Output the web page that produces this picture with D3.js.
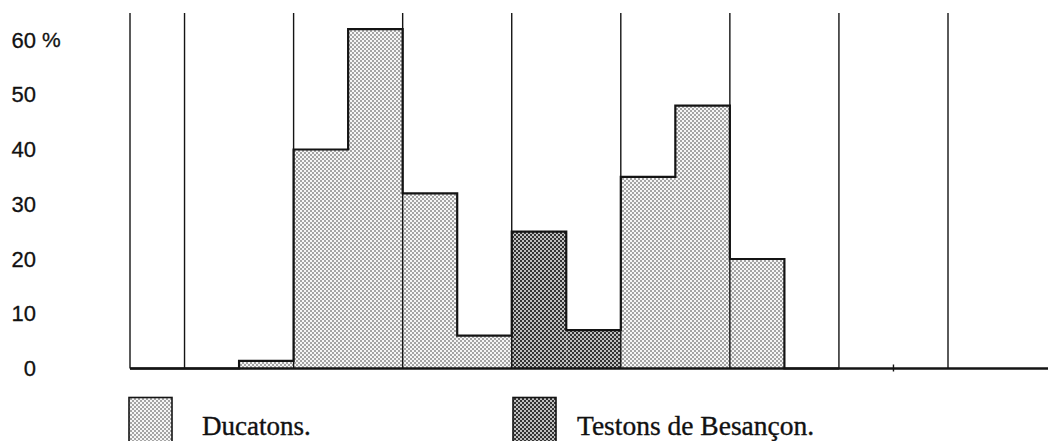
<!DOCTYPE html>
<html><head><meta charset="utf-8">
<script src="https://cdn.jsdelivr.net/npm/d3@7"></script>
<style>
html,body{margin:0;padding:0;background:#fff;}
svg{display:block;}
</style></head>
<body>
<script>
// half-slot index -> value (%)
const slots = d3.range(0, 13);
const ducatons = [0, 0, 1.4, 40, 62, 32, 6, null, null, 35, 48, 20, 0];
const testons  = [null, null, null, null, null, null, null, 25, 7, null, null, null, null];
const gridSlots = [0, 1, 3, 5, 7, 9, 11, 13, 15];
const minorTickSlots = [14];
const yTicks = [0, 10, 20, 30, 40, 50, 60];
const legendItems = ["Ducatons.", "Testons de Besançon."];

const W = 1048, H = 441;
const svg = d3.select("body").append("svg").attr("width", W).attr("height", H);

const x = d3.scaleLinear().domain([0, 15]).range([130, 948]);
const y = d3.scaleLinear().domain([0, 60]).range([368.5, 40]);
const gridTop = 13;

const defs = svg.append("defs");
function checker(id, a, b) {
  const p = defs.append("pattern").attr("id", id).attr("patternUnits", "userSpaceOnUse")
    .attr("width", 4).attr("height", 4);
  p.append("rect").attr("width", 4).attr("height", 4).attr("fill", b);
  p.append("rect").attr("x", 0).attr("y", 0).attr("width", 2).attr("height", 2).attr("fill", a);
  p.append("rect").attr("x", 2).attr("y", 2).attr("width", 2).attr("height", 2).attr("fill", a);
}
checker("light", "#a4a4a4", "#f6f6f6");
checker("dark", "#333333", "#c0c0c0");

const vals = slots.map(k => ducatons[k] != null ? ducatons[k] : (testons[k] != null ? testons[k] : 0));

// fills
const g = svg.append("g");
g.selectAll("rect.d").data(slots.filter(k => ducatons[k] > 0)).join("rect")
  .attr("class", "d")
  .attr("x", k => x(k)).attr("y", k => y(ducatons[k]))
  .attr("width", k => x(k + 1) - x(k)).attr("height", k => y(0) - y(ducatons[k]))
  .attr("fill", "url(#light)");
g.selectAll("rect.t").data(slots.filter(k => testons[k] > 0)).join("rect")
  .attr("class", "t")
  .attr("x", k => x(k)).attr("y", k => y(testons[k]))
  .attr("width", k => x(k + 1) - x(k)).attr("height", k => y(0) - y(testons[k]))
  .attr("fill", "url(#dark)");

// grid lines
svg.append("g").selectAll("line").data(gridSlots).join("line")
  .attr("x1", k => x(k)).attr("x2", k => x(k))
  .attr("y1", gridTop).attr("y2", y(0))
  .attr("stroke", "#141414").attr("stroke-width", 1.4);

// step outline
const pts = [];
slots.forEach(k => { pts.push([x(k), y(vals[k])]); pts.push([x(k + 1), y(vals[k])]); });
svg.append("path").attr("d", d3.line()(pts))
  .attr("fill", "none").attr("stroke", "#141414").attr("stroke-width", 2.2);

// baseline
svg.append("line").attr("x1", x(0)).attr("x2", W).attr("y1", y(0)).attr("y2", y(0))
  .attr("stroke", "#141414").attr("stroke-width", 2.4);
svg.append("g").selectAll("line").data(minorTickSlots).join("line")
  .attr("x1", k => x(k)).attr("x2", k => x(k))
  .attr("y1", y(0) - 4).attr("y2", y(0) + 3)
  .attr("stroke", "#141414").attr("stroke-width", 1.4);

// y axis labels
const ax = svg.append("g").attr("transform", "translate(39,0)")
  .call(d3.axisLeft(y).tickValues(yTicks).tickSize(0).tickPadding(3).tickFormat(d => d));
ax.select(".domain").remove();
ax.selectAll("text").attr("font-family", "'Liberation Sans', Arial, sans-serif")
  .attr("font-size", 22).attr("fill", "#111")
  .attr("stroke", "#111").attr("stroke-width", 0.3);
svg.append("text").attr("x", 42).attr("y", y(60)).attr("dy", "0.32em")
  .attr("font-family", "'Liberation Sans', Arial, sans-serif").attr("font-size", 21)
  .attr("fill", "#111").attr("stroke", "#111").attr("stroke-width", 0.3).text("%");

// legend
const lg = svg.append("g");
const lx = [129, 513];
const fills = ["url(#light)", "url(#dark)"];
legendItems.forEach((t, i) => {
  lg.append("rect").attr("x", lx[i]).attr("y", 397.5).attr("width", 43).attr("height", 50)
    .attr("fill", fills[i]).attr("stroke", "#141414").attr("stroke-width", 1.6);
  lg.append("text").attr("x", lx[i] + 73 - (i ? 9 : 0)).attr("y", 435)
    .attr("font-family", "'Liberation Serif', 'Times New Roman', serif")
    .attr("font-size", i ? 27.5 : 27).attr("fill", "#111")
    .attr("stroke", "#111").attr("stroke-width", 0.35).text(t);
});
</script>
</body></html>
